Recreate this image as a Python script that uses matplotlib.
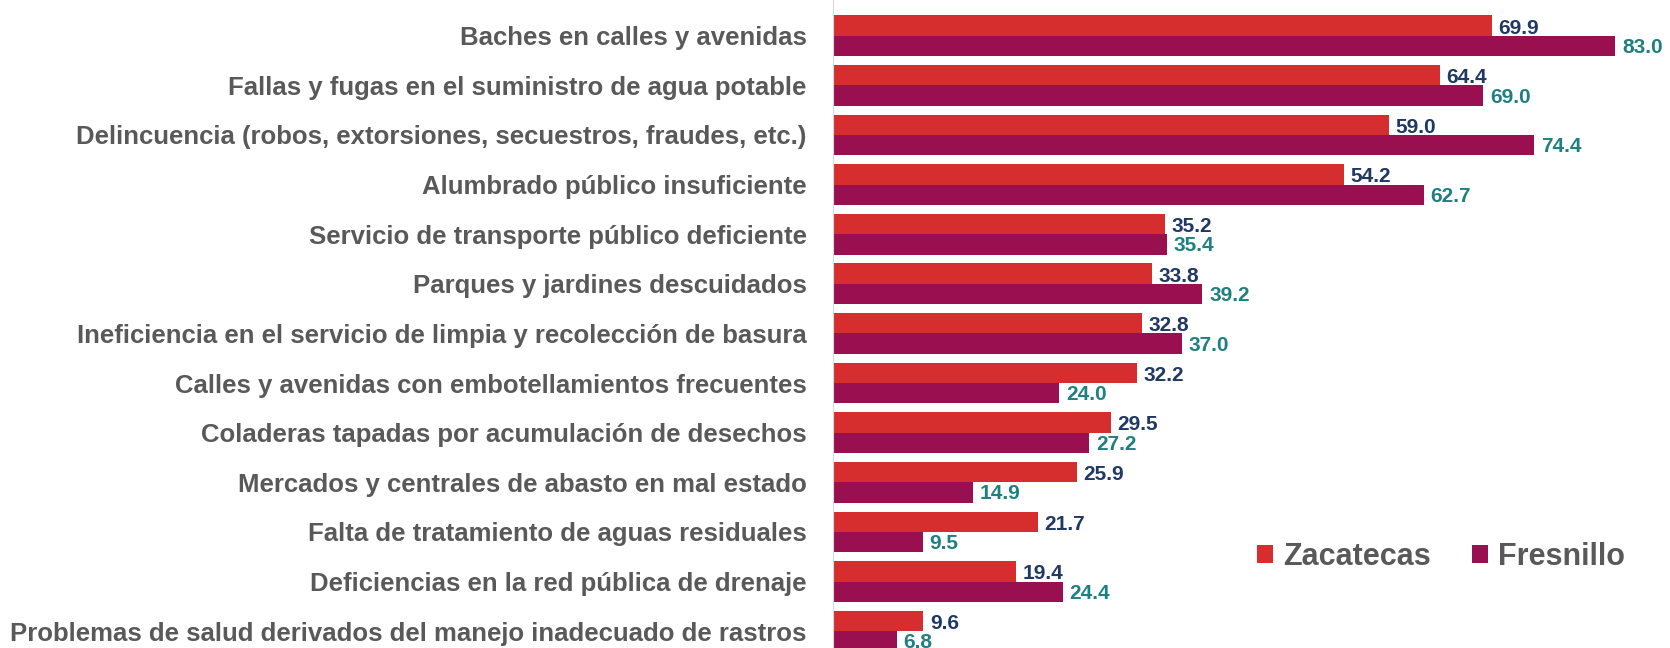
import matplotlib.pyplot as plt

# Problemas urbanos: Zacatecas vs Fresnillo (%)
categorias = [
    'Baches en calles y avenidas',
    'Fallas y fugas en el suministro de agua potable',
    'Delincuencia (robos, extorsiones, secuestros, fraudes, etc.)',
    'Alumbrado público insuficiente',
    'Servicio de transporte público deficiente',
    'Parques y jardines descuidados',
    'Ineficiencia en el servicio de limpia y recolección de basura',
    'Calles y avenidas con embotellamientos frecuentes',
    'Coladeras tapadas por acumulación de desechos',
    'Mercados y centrales de abasto en mal estado',
    'Falta de tratamiento de aguas residuales',
    'Deficiencias en la red pública de drenaje',
    'Problemas de salud derivados del manejo inadecuado de rastros',
]
zacatecas = [69.9, 64.4, 59.0, 54.2, 35.2, 33.8, 32.8, 32.2, 29.5, 25.9, 21.7, 19.4, 9.6]
fresnillo = [83.0, 69.0, 74.4, 62.7, 35.4, 39.2, 37.0, 24.0, 27.2, 14.9, 9.5, 24.4, 6.8]

plt.rcParams['font.family'] = ['Liberation Sans', 'DejaVu Sans']

fig = plt.figure(figsize=(16.7, 6.48), dpi=100)
ax = fig.add_axes([833 / 1670, 0, 1 - 833 / 1670, 1])

h = 0.41
pos = list(range(len(categorias)))
ax.barh([p - h / 2 for p in pos], zacatecas, height=h, color='#D62E2E', label='Zacatecas')
ax.barh([p + h / 2 for p in pos], fresnillo, height=h, color='#990F50', label='Fresnillo')

# etiquetas de valor
for p, v in zip(pos, zacatecas):
    ax.text(v + 0.7, p - h / 2 + 0.05, f'{v:.1f}', va='center', ha='left',
            fontsize=15, fontweight='bold', color='#1F3864')
for p, v in zip(pos, fresnillo):
    ax.text(v + 0.7, p + h / 2 + 0.03, f'{v:.1f}', va='center', ha='left',
            fontsize=15, fontweight='bold', color='#1E8080')

ax.set_yticks(pos)
ax.set_yticklabels(categorias, fontsize=18.5, fontweight='bold', color='#595959')
ax.tick_params(axis='y', length=0, pad=19)
ax.set_xlim(0, 88.8)
ax.set_ylim(12.34, -0.72)
ax.set_xticks([])
for s in ['top', 'right', 'bottom']:
    ax.spines[s].set_visible(False)
ax.spines['left'].set_color('#D9D9D9')

ax.legend(loc='center', bbox_to_anchor=(0.726, 0.141), ncol=2, frameon=False,
          prop={'size': 22, 'weight': 'bold'}, labelcolor='#595959',
          handlelength=0.55, handleheight=0.55, handletextpad=0.3, columnspacing=1.35)

plt.savefig('out.png', dpi=100)
